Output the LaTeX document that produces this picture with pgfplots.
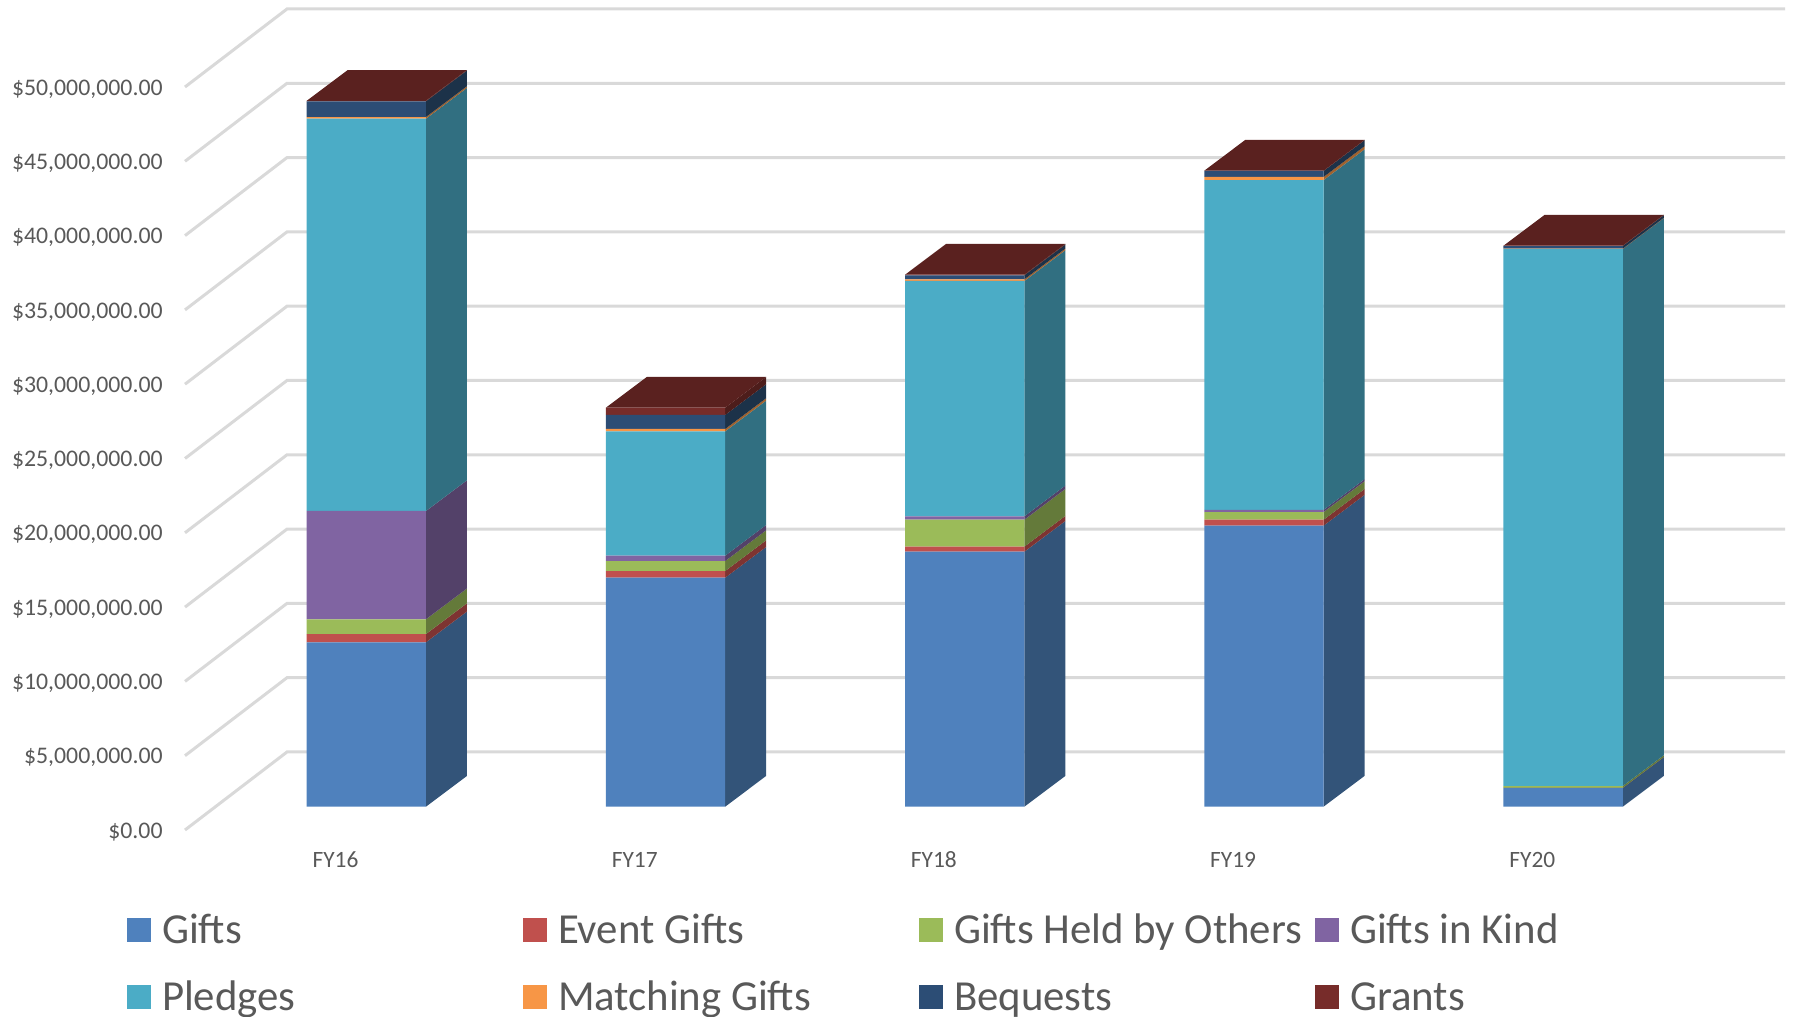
\documentclass[border=0pt]{standalone}
\usepackage{fontspec}
\setmainfont{Carlito}
\usepackage{pgfplots}
\usepackage{pgfplotstable}
\pgfplotsset{compat=1.18}
\definecolor{txt}{HTML}{595959}
\definecolor{gridc}{HTML}{D9D9D9}
\definecolor{cGifts}{HTML}{4F81BD}
\definecolor{cEvent}{HTML}{C0504D}
\definecolor{cHeld}{HTML}{9BBB59}
\definecolor{cKind}{HTML}{8064A2}
\definecolor{cPledge}{HTML}{4BACC6}
\definecolor{cMatch}{HTML}{F79646}
\definecolor{cBeq}{HTML}{2C4D75}
\definecolor{cGrant}{HTML}{772C2A}
\definecolor{sGifts}{HTML}{335479}
\definecolor{sEvent}{HTML}{7E3432}
\definecolor{sHeld}{HTML}{647A3A}
\definecolor{sKind}{HTML}{534169}
\definecolor{sPledge}{HTML}{316F81}
\definecolor{sMatch}{HTML}{A0622E}
\definecolor{sBeq}{HTML}{1C3249}
\definecolor{sGrant}{HTML}{4D1D1B}
\definecolor{tGrant}{HTML}{5A211F}
% values in millions of dollars
\pgfplotstableread{
x Gifts Event Held Kind Pledges Match Bequests Grants
0 11.06 0.56 0.99 7.29 26.40 0.11 1.06 0.03
1 15.41 0.45 0.67 0.36 8.37 0.16 0.94 0.49
2 17.16 0.34 1.81 0.23 15.84 0.11 0.27 0.04
3 18.91 0.40 0.52 0.14 22.20 0.21 0.40 0.02
4 1.26 0.01 0.12 0.00 36.14 0.02 0.18 0.02
}\budget
% side face of a segment: bar index, lower and upper cumulative value, colour
\newcommand\seg[4]{%
  \pgfmathsetmacro\xa{#1+0.19937}\pgfmathsetmacro\xb{#1+0.33640}%
  \pgfmathsetmacro\ya{#2+2.07}\pgfmathsetmacro\yb{#3+2.07}%
  \edef\tmp{\noexpand\addplot[fill=#4,draw=none] coordinates {(\xa,#2)(\xb,\ya)(\xb,\yb)(\xa,#3)} --cycle;}\tmp}
% top face of a bar: bar index, total
\newcommand\topf[2]{%
  \pgfmathsetmacro\xl{#1-0.19937}\pgfmathsetmacro\xa{#1+0.19937}%
  \pgfmathsetmacro\xb{#1-0.19937+0.13703}\pgfmathsetmacro\xc{#1+0.33640}%
  \pgfmathsetmacro\ya{#2+2.07}%
  \edef\tmp{\noexpand\addplot[fill=tGrant,draw=none] coordinates {(\xl,#2)(\xa,#2)(\xc,\ya)(\xb,\ya)} --cycle;}\tmp}
\newcommand\wall[1]{%
  \pgfmathsetmacro\ya{#1+5.25}%
  \edef\tmp{\noexpand\addplot[gridc,line width=1.5pt] coordinates {(185,#1)(287,\ya)(1785,\ya)};}\tmp}
\newcommand\legtxt[1]{\makebox[180.5pt][l]{#1}}
\pgfplotsset{sq/.style={
  legend image code/.code={\path[##1,draw=none] (0pt,-6pt) rectangle (12pt,6pt);},
  legend columns=4,legend cell align=left,
  legend style={anchor=west,draw=none,fill=none,inner sep=0pt,outer sep=0pt,
    font=\fontsize{21.4}{24}\selectfont,text=txt,
    nodes={inner sep=0pt,outer sep=0pt,text height=16pt,text depth=2.3pt},
    cells={anchor=west},
    /tikz/every odd column/.append style={column sep=5.5pt},
    /tikz/every even column/.append style={column sep=0pt}}}}
\begin{document}
\begin{tikzpicture}
% walls and value axis
\begin{axis}[at={(0pt,0pt)},anchor=south west,scale only axis,width=897pt,height=508.5pt,
  xmin=0,xmax=1794,ymin=-12.584,ymax=55.855,clip=false,
  axis line style={draw=none},tick style={draw=none},major tick length=0pt,
  xtick=\empty,ytick={0,5,...,50},
  yticklabels={{\$0.00},{\$5,000,000.00},{\$10,000,000.00},{\$15,000,000.00},{\$20,000,000.00},{\$25,000,000.00},{\$30,000,000.00},{\$35,000,000.00},{\$40,000,000.00},{\$45,000,000.00},{\$50,000,000.00}},
  yticklabel style={anchor=east,inner sep=0pt,xshift=81.5pt,yshift=-1pt,font=\fontsize{11.9}{14}\selectfont,text=txt}]
\wall{0}\wall{5}\wall{10}\wall{15}\wall{20}\wall{25}\wall{30}\wall{35}\wall{40}\wall{45}\wall{50}
\end{axis}
% side and top faces
\begin{axis}[at={(0pt,0pt)},anchor=south west,scale only axis,width=897pt,height=508.5pt,
  xmin=-1.22426,xmax=4.77172,ymin=-14.152,ymax=54.287,hide axis,clip=false]
\seg{0}{0}{11.06}{sGifts}\seg{0}{11.06}{11.62}{sEvent}\seg{0}{11.62}{12.61}{sHeld}\seg{0}{12.61}{19.90}{sKind}
\seg{0}{19.90}{46.30}{sPledge}\seg{0}{46.30}{46.41}{sMatch}\seg{0}{46.41}{47.47}{sBeq}\seg{0}{47.47}{47.50}{sGrant}\topf{0}{47.50}
\seg{1}{0}{15.41}{sGifts}\seg{1}{15.41}{15.86}{sEvent}\seg{1}{15.86}{16.53}{sHeld}\seg{1}{16.53}{16.89}{sKind}
\seg{1}{16.89}{25.26}{sPledge}\seg{1}{25.26}{25.42}{sMatch}\seg{1}{25.42}{26.36}{sBeq}\seg{1}{26.36}{26.85}{sGrant}\topf{1}{26.85}
\seg{2}{0}{17.16}{sGifts}\seg{2}{17.16}{17.50}{sEvent}\seg{2}{17.50}{19.31}{sHeld}\seg{2}{19.31}{19.54}{sKind}
\seg{2}{19.54}{35.38}{sPledge}\seg{2}{35.38}{35.49}{sMatch}\seg{2}{35.49}{35.76}{sBeq}\seg{2}{35.76}{35.80}{sGrant}\topf{2}{35.80}
\seg{3}{0}{18.91}{sGifts}\seg{3}{18.91}{19.31}{sEvent}\seg{3}{19.31}{19.83}{sHeld}\seg{3}{19.83}{19.97}{sKind}
\seg{3}{19.97}{42.17}{sPledge}\seg{3}{42.17}{42.38}{sMatch}\seg{3}{42.38}{42.78}{sBeq}\seg{3}{42.78}{42.80}{sGrant}\topf{3}{42.80}
\seg{4}{0}{1.26}{sGifts}\seg{4}{1.26}{1.27}{sEvent}\seg{4}{1.27}{1.39}{sHeld}
\seg{4}{1.39}{37.53}{sPledge}\seg{4}{37.53}{37.55}{sMatch}\seg{4}{37.55}{37.73}{sBeq}\seg{4}{37.73}{37.75}{sGrant}\topf{4}{37.75}
\end{axis}
% second legend row
\begin{axis}[at={(0pt,0pt)},anchor=south west,scale only axis,width=897pt,height=508.5pt,
  xmin=0,xmax=1,ymin=0,ymax=1,hide axis,sq,legend style={at={(0.0708,0.0197)}}]
\addlegendimage{fill=cPledge}\addlegendentry{\legtxt{Pledges}}
\addlegendimage{fill=cMatch}\addlegendentry{\legtxt{Matching Gifts}}
\addlegendimage{fill=cBeq}\addlegendentry{\legtxt{Bequests}}
\addlegendimage{fill=cGrant}\addlegendentry{\legtxt{Grants}}
\end{axis}
% front faces
\begin{axis}[at={(0pt,0pt)},anchor=south west,scale only axis,width=897pt,height=508.5pt,
  xmin=-1.22426,xmax=4.77172,ymin=-14.152,ymax=54.287,clip=false,
  ybar stacked,bar width=59.65pt,
  axis line style={draw=none},tick style={draw=none},major tick length=0pt,
  ytick=\empty,xtick=data,xticklabels={FY16,FY17,FY18,FY19,FY20},
  xticklabel style={anchor=center,inner sep=0pt,xshift=-15.4pt,yshift=78.5pt,font=\fontsize{11.7}{14}\selectfont,text=txt},
  sq,legend style={at={(0.0708,0.0855)}}]
\addplot[fill=cGifts,draw=none] table[y=Gifts]{\budget};
\addplot[fill=cEvent,draw=none] table[y=Event]{\budget};
\addplot[fill=cHeld,draw=none] table[y=Held]{\budget};
\addplot[fill=cKind,draw=none] table[y=Kind]{\budget};
\addplot[fill=cPledge,draw=none] table[y=Pledges]{\budget};
\addplot[fill=cMatch,draw=none] table[y=Match]{\budget};
\addplot[fill=cBeq,draw=none] table[y=Bequests]{\budget};
\addplot[fill=cGrant,draw=none] table[y=Grants]{\budget};
\addlegendentry{\legtxt{Gifts}}
\addlegendentry{\legtxt{Event Gifts}}
\addlegendentry{\legtxt{Gifts Held by Others}}
\addlegendentry{\legtxt{Gifts in Kind}}
\end{axis}
\end{tikzpicture}
\end{document}
